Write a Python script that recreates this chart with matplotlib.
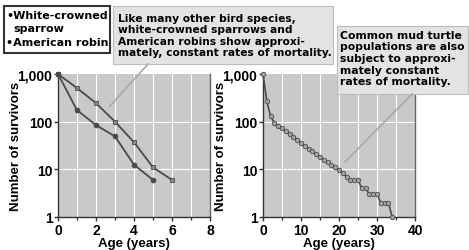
import matplotlib
matplotlib.use("Agg")
import matplotlib.pyplot as plt
from matplotlib.patches import Rectangle
from matplotlib.lines import Line2D
from matplotlib.ticker import FixedLocator, FuncFormatter

plt.rcParams['font.family'] = ['Liberation Sans', 'DejaVu Sans']
plt.rcParams['font.weight'] = 'bold'

# --- data ---
bird_age = [0, 1, 2, 3, 4, 5, 6]
sparrow = [1000, 507, 245, 100, 37, 11, 6]
robin_age = [0, 1, 2, 3, 4, 5]
robin = [1000, 174, 85, 49, 12.5, 6]

turtle_age = [0, 1, 2, 3, 4, 5, 6, 7, 8, 9, 10, 11, 12, 13, 14, 15, 16, 17,
              18, 19, 20, 21, 22, 23, 24, 25, 26, 27, 28, 29, 30, 31, 32, 33, 34]
turtle = [1000, 270, 130, 95, 83, 72, 63, 55, 48, 42, 36, 31, 27, 24, 21, 18.5,
          16, 14, 12.5, 11, 9.5, 8.2, 7, 6, 6, 6, 4, 4, 3, 3, 3, 2, 2, 2, 1]

W, H = 469, 251
fig = plt.figure(figsize=(W / 100, H / 100), dpi=100)
fig.patch.set_facecolor('white')


def fx(x):
    return x / W


def fy(y):
    return 1 - y / H


BG = '#c9c9c9'
LINE = '#4a4a4a'
MFACE = '#8a8a8a'
NOTE_FONT = ['DejaVu Sans']


def style_axes(ax, xmax, major, minor):
    ax.set_facecolor(BG)
    ax.set_yscale('log')
    ax.set_ylim(1, 1000)
    ax.set_xlim(0, xmax)
    ax.yaxis.set_major_locator(FixedLocator([1, 10, 100, 1000]))
    ax.yaxis.set_minor_locator(FixedLocator([]))
    ax.yaxis.set_major_formatter(FuncFormatter(lambda v, p: f"{int(v):,}"))
    ax.xaxis.set_major_locator(FixedLocator(major))
    ax.xaxis.set_minor_locator(FixedLocator(minor))
    for v in minor:
        if 0 < v < xmax:
            ax.axvline(v, color='white', lw=0.8, zorder=0.5)
    for v in [10, 100]:
        ax.axhline(v, color='white', lw=0.8, zorder=0.5)
    ax.spines['top'].set_visible(False)
    for s in ['left', 'bottom', 'right']:
        ax.spines[s].set_color('#333333')
        ax.spines[s].set_linewidth(1.0)
    ax.spines['right'].set_color('#666666')
    ax.tick_params(axis='both', which='major', labelsize=10, length=3,
                   width=1, color='#333333', pad=1)
    ax.tick_params(axis='x', which='minor', length=2, width=1, color='#333333')
    ax.set_xlabel('Age (years)', fontsize=9.5, fontweight='bold', labelpad=0)
    ax.set_ylabel('Number of survivors', fontsize=9.5, fontweight='bold')
    ax.yaxis.set_label_coords(-0.237, 0.5)


ax1 = fig.add_axes([fx(58), fy(218), fx(152), 143 / H])
style_axes(ax1, 8, [0, 2, 4, 6, 8], list(range(0, 9)))
ax1.plot(bird_age, sparrow, color=LINE, lw=1.3, marker='s', ms=3.2,
         mfc=MFACE, mec=LINE, mew=0.6, clip_on=False, zorder=3)
ax1.plot(robin_age, robin, color=LINE, lw=1.3, marker='o', ms=3.5,
         mfc=LINE, mec=LINE, mew=0.6, clip_on=False, zorder=3)

ax2 = fig.add_axes([fx(263), fy(218), fx(152), 143 / H])
style_axes(ax2, 40, [0, 10, 20, 30, 40], list(range(0, 41, 5)))
ax2.plot(turtle_age, turtle, color=LINE, lw=1.2, marker='o', ms=3.2,
         mfc='#a5a5a5', mec=LINE, mew=0.6, clip_on=False, zorder=3)

# legend box
fig.add_artist(Rectangle((fx(4), fy(54)), fx(106), 47 / H, transform=fig.transFigure,
                         facecolor='white', edgecolor='#333333', lw=1.5))
fig.text(fx(6), fy(16), '\u2022White-crowned', fontsize=8, fontweight='bold',
         va='center', family=NOTE_FONT)
fig.text(fx(13), fy(29), 'sparrow', fontsize=8, fontweight='bold',
         va='center', family=NOTE_FONT)
fig.text(fx(6), fy(43), '\u2022American robin', fontsize=8, fontweight='bold',
         va='center', family=NOTE_FONT)

# callout boxes
fig.add_artist(Rectangle((fx(113), fy(65)), fx(220), 58 / H, transform=fig.transFigure,
                         facecolor='#e3e3e3', edgecolor='#bdbdbd', lw=0.8))
fig.text(fx(118), fy(36), 'Like many other bird species,\nwhite-crowned sparrows and\n'
         'American robins show approxi-\nmately, constant rates of mortality.',
         fontsize=7.7, fontweight='bold', va='center', linespacing=1.2, family=NOTE_FONT)
fig.add_artist(Line2D([fx(148), fx(110)], [fy(65), fy(107)], transform=fig.transFigure,
                      color='#a8a8a8', lw=1.2))

fig.add_artist(Rectangle((fx(337), fy(95)), fx(131), 68 / H, transform=fig.transFigure,
                         facecolor='#e3e3e3', edgecolor='#bdbdbd', lw=0.8))
fig.text(fx(340), fy(59), 'Common mud turtle\npopulations are also\nsubject to approxi-\n'
         'mately constant\nrates of mortality.',
         fontsize=7.8, fontweight='bold', va='center', linespacing=1.2, family=NOTE_FONT)
fig.add_artist(Line2D([fx(412), fx(345)], [fy(95), fy(163)], transform=fig.transFigure,
                      color='#a8a8a8', lw=1.2))

fig.savefig('out.png', dpi=100, facecolor='white')
